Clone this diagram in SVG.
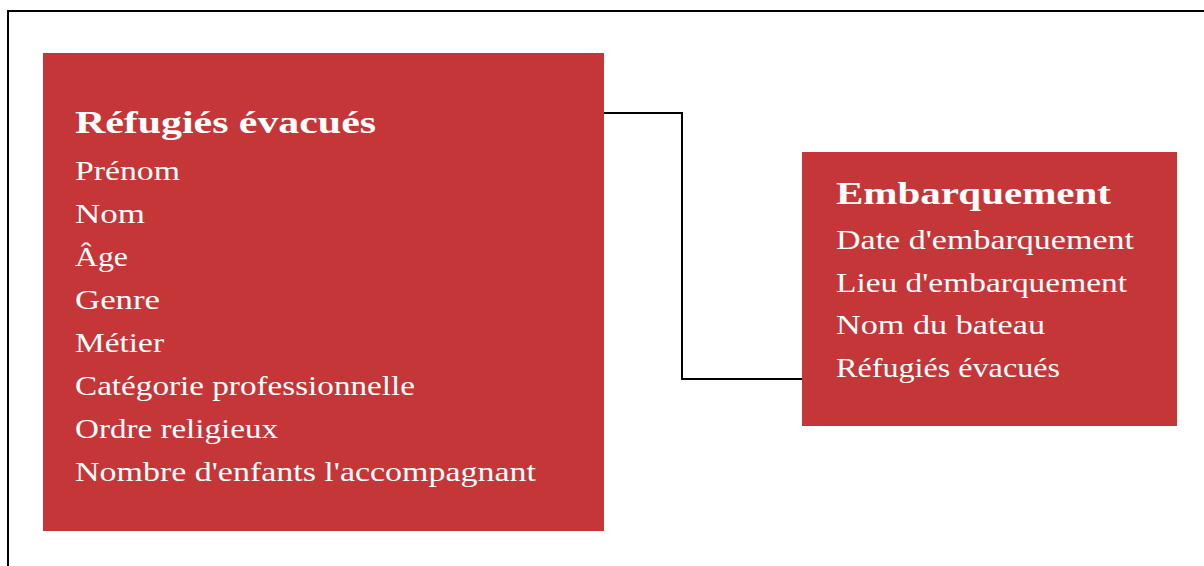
<svg xmlns="http://www.w3.org/2000/svg" width="1204" height="566" viewBox="0 0 1204 566">
<style>
.box{fill:#c43638}
.t{font-family:"Liberation Serif",serif;fill:#ffffff}
.h{font-size:32px;font-weight:bold}
.i{font-size:28px}
.c{fill:none;stroke:#000;stroke-width:2}
</style>
<rect x="0" y="0" width="1204" height="566" fill="#ffffff"/>
<path d="M8,566 V11 H1204" fill="none" stroke="#000" stroke-width="2"/>
<g id="connectors">
<path class="c" d="M603,113 H682 V379 H802"/>
</g>
<g id="refugies">
<rect class="box" x="43" y="53" width="561" height="478"/>
<text class="t h" x="75" y="133" textLength="301" lengthAdjust="spacingAndGlyphs">Réfugiés évacués</text>
<text class="t i" x="75" y="180" textLength="105" lengthAdjust="spacingAndGlyphs">Prénom</text>
<text class="t i" x="75" y="223" textLength="70" lengthAdjust="spacingAndGlyphs">Nom</text>
<text class="t i" x="75" y="266" textLength="53" lengthAdjust="spacingAndGlyphs">Âge</text>
<text class="t i" x="75" y="309" textLength="85" lengthAdjust="spacingAndGlyphs">Genre</text>
<text class="t i" x="75" y="352" textLength="89" lengthAdjust="spacingAndGlyphs">Métier</text>
<text class="t i" x="75" y="395" textLength="340" lengthAdjust="spacingAndGlyphs">Catégorie professionnelle</text>
<text class="t i" x="75" y="438" textLength="203" lengthAdjust="spacingAndGlyphs">Ordre religieux</text>
<text class="t i" x="75" y="481" textLength="461" lengthAdjust="spacingAndGlyphs">Nombre d'enfants l'accompagnant</text>
</g>
<g id="embarquement">
<rect class="box" x="802" y="152" width="375" height="274"/>
<text class="t h" x="836" y="204" textLength="275" lengthAdjust="spacingAndGlyphs">Embarquement</text>
<text class="t i" x="836" y="249" textLength="298" lengthAdjust="spacingAndGlyphs">Date d'embarquement</text>
<text class="t i" x="836" y="292" textLength="291" lengthAdjust="spacingAndGlyphs">Lieu d'embarquement</text>
<text class="t i" x="836" y="334" textLength="209" lengthAdjust="spacingAndGlyphs">Nom du bateau</text>
<text class="t i" x="836" y="377" textLength="224" lengthAdjust="spacingAndGlyphs">Réfugiés évacués</text>
</g>
</svg>
